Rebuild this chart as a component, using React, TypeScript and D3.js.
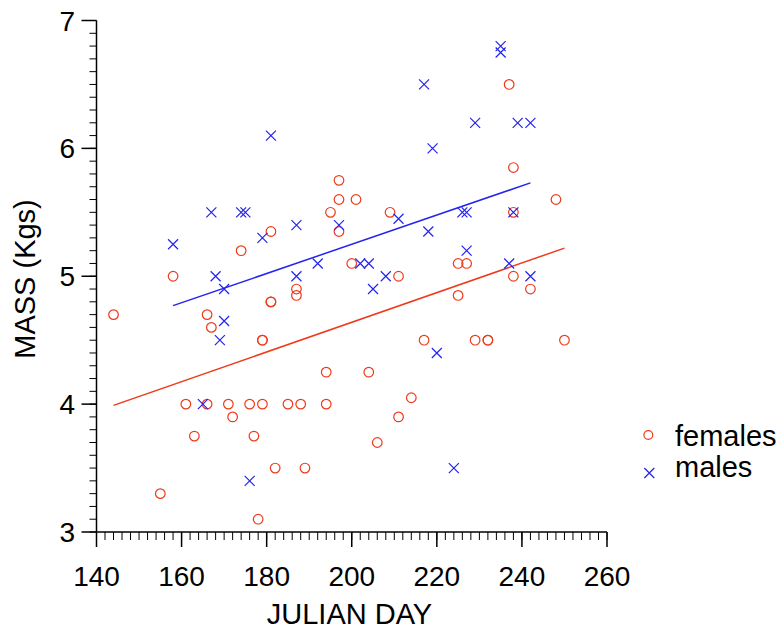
import React from "react";
import * as d3 from "d3";

const femaleDay = [197,197,195,197,181,174,200,158,237,238,201,209,238,225,227,211,238,248,187,187,181,181,144,166,167,179,179,194,161,166,171,176,179,185,188,194,172,163,177,182,189,155,178,225,242,217,229,232,232,250,204,214,211,206];
const femaleMass = [5.75,5.6,5.5,5.35,5.35,5.2,5.1,5.0,6.5,5.85,5.6,5.5,5.5,5.1,5.1,5.0,5.0,5.6,4.9,4.85,4.8,4.8,4.7,4.7,4.6,4.5,4.5,4.25,4.0,4.0,4.0,4.0,4.0,4.0,4.0,4.0,3.9,3.75,3.75,3.5,3.5,3.3,3.1,4.85,4.9,4.5,4.5,4.5,4.5,4.5,4.25,4.05,3.9,3.7];

const maleDay = [181,167,174,175,187,197,179,158,192,168,187,235,235,217,229,239,242,219,211,226,227,238,218,227,202,204,237,208,242,170,170,169,165,176,205,220,224];
const maleMass = [6.1,5.5,5.5,5.5,5.4,5.4,5.3,5.25,5.1,5.0,5.0,6.8,6.75,6.5,6.2,6.2,6.2,6.0,5.45,5.5,5.5,5.5,5.35,5.2,5.1,5.1,5.1,5.0,5.0,4.9,4.65,4.5,4.0,3.4,4.9,4.4,3.5];

const femaleFitDay = [144, 250];
const femaleFitMass = [3.99, 5.22];
const maleFitDay = [158, 242];
const maleFitMass = [4.77, 5.73];

const xMajor = [140, 160, 180, 200, 220, 240, 260];
const yMajor = [3, 4, 5, 6, 7];
const legendLabels = ["females", "males"];

const RED = "#ee3a1a";
const BLUE = "#2424ee";
const FONT = "'Liberation Sans', Arial, sans-serif";

export default function App() {
  const x = d3.scaleLinear().domain([140, 260]).range([96.5, 607]);
  const y = d3.scaleLinear().domain([3, 7]).range([532, 20.5]);
  const xMinor = d3.range(140, 260.01, 2);
  const yMinor = d3.range(30, 70.01, 1).map((v) => v / 10);
  const line = d3.line<[number, number]>().x((d) => x(d[0])).y((d) => y(d[1]));
  const fFit: [number, number][] = femaleFitDay.map((d, i) => [d, femaleFitMass[i]]);
  const mFit: [number, number][] = maleFitDay.map((d, i) => [d, maleFitMass[i]]);
  const x0 = x(140);
  const y0 = y(3);
  const xs = 5;

  return (
    <svg width={780} height={630} style={{ position: "absolute", left: 0, top: 0 }} fontFamily={FONT}>
      <rect width={780} height={630} fill="#fff" />
      {/* axes */}
      <line x1={x0} x2={x(260)} y1={y0} y2={y0} stroke="#000" strokeWidth={1.5} />
      <line x1={x0} x2={x0} y1={y(7)} y2={y0} stroke="#000" strokeWidth={1.5} />
      {xMinor.map((t) => (
        <line key={"xm" + t} x1={x(t)} x2={x(t)} y1={y0} y2={y0 + 8} stroke="#000" strokeWidth={1} />
      ))}
      {xMajor.map((t) => (
        <g key={"xM" + t}>
          <line x1={x(t)} x2={x(t)} y1={y0} y2={y0 + 15} stroke="#000" strokeWidth={1.5} />
          <text x={x(t)} y={586} fontSize={28} textAnchor="middle" fill="#000">{t}</text>
        </g>
      ))}
      {yMinor.map((t) => (
        <line key={"ym" + t} x1={x0 - 7} x2={x0} y1={y(t)} y2={y(t)} stroke="#000" strokeWidth={1} />
      ))}
      {yMajor.map((t) => (
        <g key={"yM" + t}>
          <line x1={x0 - 15} x2={x0} y1={y(t)} y2={y(t)} stroke="#000" strokeWidth={1.5} />
          <text x={75} y={y(t) + 10} fontSize={28} textAnchor="end" fill="#000">{t}</text>
        </g>
      ))}
      <text x={349.5} y={624} fontSize={29} textAnchor="middle" fill="#000">JULIAN DAY</text>
      <text transform={`translate(35,279) rotate(-90)`} fontSize={29} textAnchor="middle" fill="#000">MASS (Kgs)</text>

      {/* fit lines */}
      <path d={line(fFit) || ""} stroke={RED} strokeWidth={1.5} fill="none" />
      <path d={line(mFit) || ""} stroke={BLUE} strokeWidth={1.5} fill="none" />

      {/* points */}
      {femaleDay.map((d, i) => (
        <circle key={"f" + i} cx={x(d)} cy={y(femaleMass[i])} r={4.8} fill="none" stroke={RED} strokeWidth={1.2} />
      ))}
      {maleDay.map((d, i) => {
        const cx = x(d);
        const cy = y(maleMass[i]);
        return (
          <path key={"m" + i} d={`M${cx - xs},${cy - xs}L${cx + xs},${cy + xs}M${cx - xs},${cy + xs}L${cx + xs},${cy - xs}`} stroke={BLUE} strokeWidth={1.2} fill="none" />
        );
      })}

      {/* legend */}
      <circle cx={648.3} cy={435} r={4.4} fill="none" stroke={RED} strokeWidth={1.2} />
      <text x={675} y={446} fontSize={29} fill="#000">{legendLabels[0]}</text>
      <path d={`M${649.3 - xs},${473 - xs}L${649.3 + xs},${473 + xs}M${649.3 - xs},${473 + xs}L${649.3 + xs},${473 - xs}`} stroke={BLUE} strokeWidth={1.2} fill="none" />
      <text x={675} y={477} fontSize={29} fill="#000">{legendLabels[1]}</text>
    </svg>
  );
}
